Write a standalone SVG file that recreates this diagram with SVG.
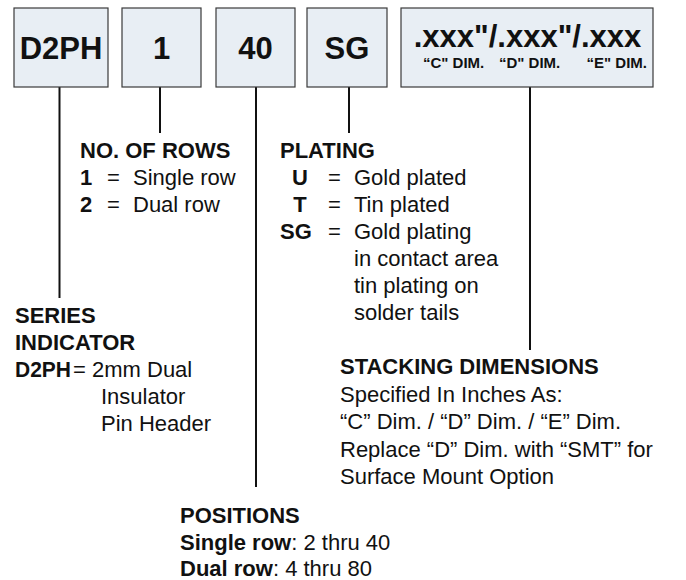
<svg xmlns="http://www.w3.org/2000/svg" width="686" height="580" viewBox="0 0 686 580">
<style>
.box{fill:#e8eef4;stroke:#3a3a3a;stroke-width:1.2}
.big{font-family:"Liberation Sans",Arial,sans-serif;font-weight:bold;font-size:31px;fill:#111;text-anchor:middle}
.dim{font-family:"Liberation Sans",Arial,sans-serif;font-weight:bold;font-size:15px;fill:#111}
.t{font-family:"Liberation Sans",Arial,sans-serif;font-size:22px;fill:#111}
.b{font-weight:bold}
.ln{stroke:#111;stroke-width:2;fill:none}
</style>
<rect width="686" height="580" fill="#fff"/>
<g id="connectors">
<line class="ln" x1="59.5" y1="87" x2="59.5" y2="298"/>
<line class="ln" x1="160" y1="87" x2="160" y2="133"/>
<line class="ln" x1="256" y1="87" x2="256" y2="487"/>
<line class="ln" x1="349" y1="87" x2="349" y2="133"/>
<line class="ln" x1="530" y1="87" x2="530" y2="350"/>
</g>
<g id="box-series">
<rect class="box" x="14" y="8" width="94" height="79"/>
<text class="big" x="61" y="59">D2PH</text>
</g>
<g id="box-rows">
<rect class="box" x="122" y="8" width="79" height="79"/>
<text class="big" x="161.5" y="59">1</text>
</g>
<g id="box-positions">
<rect class="box" x="216" y="8" width="79" height="79"/>
<text class="big" x="255.5" y="59">40</text>
</g>
<g id="box-plating">
<rect class="box" x="307" y="8" width="80" height="79"/>
<text class="big" x="347" y="59">SG</text>
</g>
<g id="box-stacking">
<rect class="box" x="401" y="8" width="252" height="79"/>
<text class="big" x="527.5" y="47">.xxx"/.xxx"/.xxx</text>
<text class="dim" x="423" y="68">“C" DIM.</text>
<text class="dim" x="499" y="68">“D" DIM.</text>
<text class="dim" x="647" y="68" text-anchor="end">“E" DIM.</text>
</g>
<g id="label-rows" class="t">
<text class="b" x="80" y="158">NO. OF ROWS</text>
<text class="b" x="80" y="185">1</text><text x="107" y="185">=</text><text x="133" y="185">Single row</text>
<text class="b" x="80" y="212">2</text><text x="107" y="212">=</text><text x="133" y="212">Dual row</text>
</g>
<g id="label-plating" class="t">
<text class="b" x="280" y="158">PLATING</text>
<text class="b" x="300" y="185" text-anchor="middle">U</text><text x="328" y="185">=</text><text x="354" y="185">Gold plated</text>
<text class="b" x="300" y="212" text-anchor="middle">T</text><text x="328" y="212">=</text><text x="354" y="212">Tin plated</text>
<text class="b" x="280" y="239">SG</text><text x="328" y="239">=</text><text x="354" y="239">Gold plating</text>
<text x="354" y="266">in contact area</text>
<text x="354" y="293">tin plating on</text>
<text x="354" y="320">solder tails</text>
</g>
<g id="label-series" class="t">
<text class="b" x="15" y="323">SERIES</text>
<text class="b" x="15" y="350">INDICATOR</text>
<text class="b" x="15" y="377" textLength="56" lengthAdjust="spacingAndGlyphs">D2PH</text><text x="73" y="377">=</text><text x="92" y="377">2mm Dual</text>
<text x="101" y="404">Insulator</text>
<text x="101" y="431">Pin Header</text>
</g>
<g id="label-stacking" class="t">
<text class="b" x="340" y="374">STACKING DIMENSIONS</text>
<text x="340" y="401.5">Specified In Inches As:</text>
<text x="340" y="429">“C” Dim. / “D” Dim. / “E” Dim.</text>
<text x="340" y="456.5">Replace “D” Dim. with “SMT” for</text>
<text x="340" y="484">Surface Mount Option</text>
</g>
<g id="label-positions" class="t">
<text class="b" x="180" y="523">POSITIONS</text>
<text x="180" y="550"><tspan class="b">Single row</tspan>: 2 thru 40</text>
<text x="180" y="576"><tspan class="b">Dual row</tspan>: 4 thru 80</text>
</g>
</svg>
